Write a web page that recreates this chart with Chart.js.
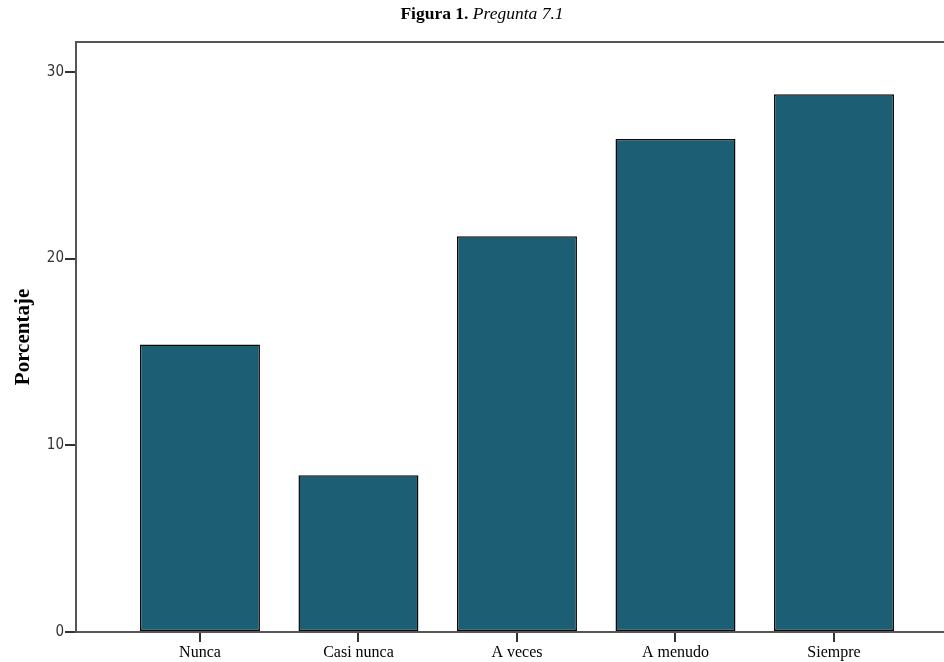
<!DOCTYPE html>
<html>
<head>
<meta charset="utf-8">
<script src="https://cdn.jsdelivr.net/npm/chart.js@4"></script>
<style>
  html, body { margin: 0; padding: 0; background: #fff; }
  #wrap { width: 944px; height: 662px; position: relative; }
</style>
</head>
<body>
<div id="wrap"><canvas id="chart"></canvas></div>
<script>
// datos
const categories = ["Nunca", "Casi nunca", "A veces", "A menudo", "Siempre"];
const percentages = [15.4, 8.4, 21.2, 26.4, 28.8];
const yTicks = [0, 10, 20, 30];

const barColor = "#1c5e74";
const axisColor = "#555555";

// titulo con parte negrita y parte cursiva
const titlePlugin = {
  id: "figTitle",
  afterDraw(chart) {
    const ctx = chart.ctx;
    const boldPart = "Figura 1. ";
    const italicPart = "Pregunta 7.1";
    ctx.save();
    ctx.fillStyle = "#000";
    ctx.textBaseline = "alphabetic";
    ctx.font = "bold 17.5px 'Liberation Serif', serif";
    const w1 = ctx.measureText(boldPart).width;
    ctx.font = "italic 17.5px 'Liberation Serif', serif";
    const w2 = ctx.measureText(italicPart).width;
    const x0 = 482 - (w1 + w2) / 2;
    ctx.font = "bold 17.5px 'Liberation Serif', serif";
    ctx.fillText(boldPart, x0, 19);
    ctx.font = "italic 17.5px 'Liberation Serif', serif";
    ctx.fillText(italicPart, x0 + w1, 19);
    ctx.restore();
  },
};

// linea superior del marco
const frameTop = {
  id: "frameTop",
  afterDraw(chart) {
    const { ctx, chartArea } = chart;
    ctx.save();
    ctx.strokeStyle = axisColor;
    ctx.lineWidth = 2;
    ctx.beginPath();
    ctx.moveTo(chartArea.left - 1, chartArea.top);
    ctx.lineTo(chartArea.right, chartArea.top);
    ctx.stroke();
    ctx.restore();
  },
};

new Chart(document.getElementById("chart"), {
  type: "bar",
  data: {
    datasets: [
      {
        data: percentages.map((v, i) => ({ x: i, y: v })),
        backgroundColor: barColor,
        borderColor: "#0a0a0a",
        borderWidth: 1.5,
        borderSkipped: false,
        barPercentage: 0.757,
        categoryPercentage: 1,
      },
    ],
  },
  options: {
    responsive: true,
    maintainAspectRatio: false,
    animation: false,
    layout: { padding: { top: 42, left: 0, right: 0, bottom: 0 } },
    plugins: {
      legend: { display: false },
      tooltip: { enabled: false },
      title: { display: false },
    },
    scales: {
      x: {
        type: "linear",
        offset: false,
        min: -0.782,
        max: 4.694,
        afterBuildTicks(scale) {
          scale.ticks = categories.map((c, i) => ({ value: i }));
        },
        afterFit(scale) {
          scale.height = 30;
        },
        grid: {
          offset: false,
          drawOnChartArea: false,
          drawTicks: true,
          tickLength: 10,
          color: "#333",
          lineWidth: 2,
        },
        border: { display: true, color: axisColor, width: 2 },
        ticks: {
          padding: 1,
          maxRotation: 0,
          autoSkip: false,
          color: "#000",
          font: { family: "'Liberation Serif', serif", size: 16 },
          callback: (v) => categories[v],
        },
      },
      y: {
        min: 0,
        max: 31.6,
        afterBuildTicks(scale) {
          scale.ticks = yTicks.map((v) => ({ value: v }));
        },
        afterFit(scale) {
          scale.width = 76;
        },
        grid: {
          drawOnChartArea: false,
          drawTicks: true,
          tickLength: 11,
          color: "#333",
          lineWidth: 2,
        },
        border: { display: true, color: axisColor, width: 2 },
        ticks: {
          padding: 1,
          color: "#333",
          font: { family: "'DejaVu Sans Condensed', 'DejaVu Sans', sans-serif", size: 15 },
        },
        title: {
          display: true,
          text: "Porcentaje",
          color: "#000",
          font: { family: "'Liberation Serif', serif", size: 21, weight: "bold" },
          padding: { top: 11, bottom: 0 },
        },
      },
    },
  },
  plugins: [titlePlugin, frameTop],
});
</script>
</body>
</html>
